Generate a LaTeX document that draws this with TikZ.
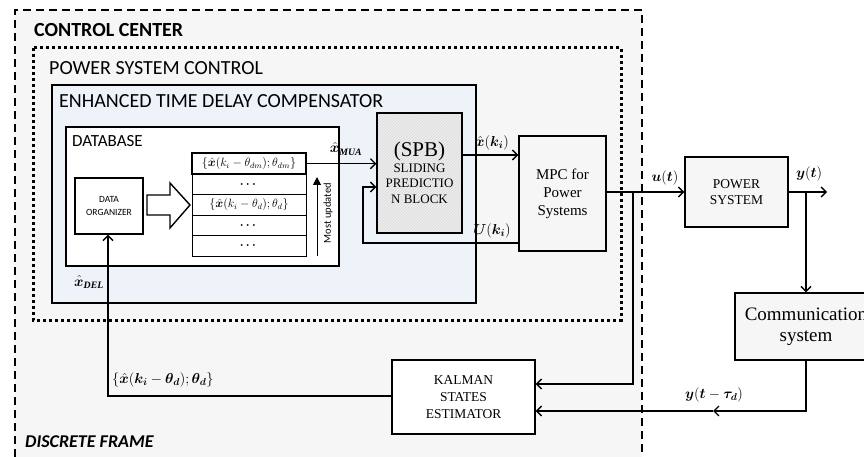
\documentclass[tikz,border=0pt]{standalone}
\usepackage{fontspec}
\usepackage{amsmath}
\usepackage{bm}
\setmainfont{Liberation Serif}
\newfontfamily\calib{Carlito}
\usetikzlibrary{arrows.meta,patterns}
\definecolor{bgdot}{HTML}{F6F6F6}
\definecolor{bluedot}{HTML}{EEF3FA}
\definecolor{hatch}{HTML}{EDEDED}
\begin{document}
\begin{tikzpicture}[x=1pt,y=-1pt,
  box/.style={draw=black,line width=1.4pt,inner sep=0pt},
  arr/.style={line width=1.3pt,-{Straight Barb[length=5pt,width=10pt,line width=1.3pt]}},
  row/.style={draw=black,line width=0.9pt,fill=white,minimum width=114pt,minimum height=20.6pt,inner sep=0pt,font=\fontsize{11.5}{13}\selectfont},
  lab/.style={font=\fontsize{14}{16}\selectfont,inner sep=1pt}
]
\useasboundingbox (0,0) rectangle (864,457);
% control center frame
\fill[bgdot] (15,10) rectangle (642,457);
\draw[line width=1.8pt,dash pattern=on 8pt off 5pt] (15,457) -- (15,10) -- (642,10) -- (642,457);
\node[anchor=west,font=\calib\bfseries\fontsize{20}{24}\selectfont,inner sep=0pt] (cc) at (34,30) {CONTROL CENTER};
% power system control frame
\draw[line width=3pt,dash pattern=on 3pt off 3pt] (33,48) rectangle (621,320);
\node[anchor=west,font=\calib\fontsize{20}{24}\selectfont,inner sep=0pt] (psc) at (49,68) {POWER SYSTEM CONTROL};
% enhanced
\draw[box,fill=bluedot] (52,85) rectangle (476,303);
\node[anchor=west,font=\calib\fontsize{20}{24}\selectfont,inner sep=0pt] (etd) at (59,101) {ENHANCED TIME DELAY COMPENSATOR};
% database
\draw[box,fill=white] (66,127) rectangle (339,266);
\node[anchor=west,font=\calib\fontsize{17}{20}\selectfont,inner sep=0pt] (dbt) at (72,141) {DATABASE};
% data organizer
\node[box,fill=white,minimum width=68pt,minimum height=56pt,align=center,font=\calib\fontsize{9.5}{13}\selectfont] (do) at (109,206) {DATA\\ORGANIZER};
% hollow arrow
\draw[line width=1.4pt,fill=white] (147,195) -- (170,195) -- (170,183) -- (190,205) -- (170,228) -- (170,215) -- (147,215) -- cycle;
% table
\node[row] (r2) at (249,184.3) {$\bm{\cdots}$};
\node[row] (r3) at (249,204.9) {$\{\hat{\bm{x}}(k_i-\theta_d);\theta_d\}$};
\node[row] (r4) at (249,225.5) {$\bm{\cdots}$};
\node[row] (r5) at (249,246.1) {$\bm{\cdots}$};
\node[row,line width=2pt] (r1) at (249,163.7) {$\{\hat{\bm{x}}(k_i-\theta_{dm});\theta_{dm}\}$};
% most updated
\coordinate (mu1) at (317,256);
\coordinate (mu2) at (317,177);
\draw[line width=1pt,-{Triangle[length=8pt,width=8pt]}] (mu1) -- (mu2);
\node[rotate=90,font=\calib\fontsize{10.5}{12}\selectfont,inner sep=0pt] (mut) at (328,213) {Most updated};
% SPB
\node[box,minimum width=85pt,minimum height=120pt,preaction={fill=hatch},pattern=north east lines,pattern color=gray!30,align=center,font=\fontsize{13}{15.5}\selectfont] (spb) at (419.5,173) {{\fontsize{21}{22}\selectfont (SPB)}\\SLIDING\\PREDICTIO\\N BLOCK};
% MPC
\node[box,fill=bgdot,minimum width=87pt,minimum height=115pt,align=center,font=\fontsize{15}{18}\selectfont] (mpc) at (562.5,193.5) {MPC for\\Power\\Systems};
% power system
\node[box,fill=bgdot,minimum width=103pt,minimum height=70pt,align=center,font=\fontsize{13.5}{16}\selectfont] (ps) at (736.5,192) {POWER\\SYSTEM};
% communication
\node[box,fill=bgdot,minimum width=142pt,minimum height=67pt,align=center,font=\fontsize{19}{21}\selectfont] (comm) at (806,326.5) {Communication\\system};
% kalman
\node[box,fill=white,minimum width=143pt,minimum height=74pt,align=center,font=\fontsize{13.5}{17}\selectfont] (kal) at (463.5,397) {KALMAN\\STATES\\ESTIMATOR};
% connectors
\draw[arr] (r1.east) -- (r1.east -| spb.west);
\node[lab] (lmua) at (346,149) {$\hat{\bm{x}}_{\bm{\mathit{MUA}}}$};
\coordinate (sx) at (462,155);
\draw[arr] (sx) -- (sx -| mpc.west);
\node[lab] (lxk) at (492,143) {$\hat{\bm{x}}(\bm{k_i})$};
\coordinate (ub) at (363,243);
\coordinate (ut) at (363,187);
\draw[arr] (ub -| mpc.west) -- (ub) -- (ut) -- (ut -| spb.west);
\node[lab] (luk) at (492,231) {$\bm{U}(\bm{k_i})$};
\draw[arr] (mpc.east |- ps.west) -- (ps.west);
\node[lab] (lut) at (665,178) {$\bm{u}(\bm{t})$};
\coordinate (yend) at (827,192);
\draw[arr] (ps.east) -- (yend);
\node[lab] (lyt) at (809,174) {$\bm{y}(\bm{t})$};
\draw[arr] (comm.north |- ps.east) -- (comm.north);
\coordinate (br1) at (633,192);
\coordinate (k1) at (633,384);
\draw[arr] (br1) -- (k1) -- (k1 -| kal.east);
\coordinate (yb) at (806,411);
\coordinate (ym) at (713,411);
\draw[arr] (comm.south) -- (yb) -- (ym);
\draw[arr] (ym) -- (ym -| kal.east);
\node[lab] (lytau) at (714,395) {$\bm{y}(\bm{t}-\bm{\tau_d})$};
\coordinate (kd) at (108,396);
\draw[arr] (kd -| kal.west) -- (kd) -- (kd |- do.south);
\node[lab,anchor=west] (lth) at (111,380) {$\{\hat{\bm{x}}(\bm{k_i}-\bm{\theta_d});\bm{\theta_d}\}$};
\node[lab] (ldel) at (89,282) {$\hat{\bm{x}}_{\bm{\mathit{DEL}}}$};
\node[anchor=west,font=\calib\bfseries\itshape\fontsize{18}{22}\selectfont,inner sep=0pt] (df) at (25,442) {DISCRETE FRAME};
\end{tikzpicture}
\end{document}
